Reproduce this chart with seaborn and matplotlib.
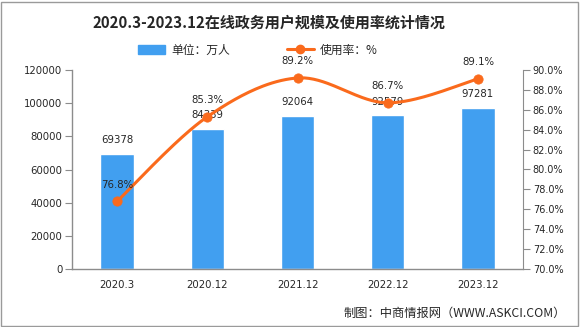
import numpy as np
import pandas as pd
import matplotlib
matplotlib.use("Agg")
import matplotlib.pyplot as plt
import seaborn as sns
from matplotlib.patches import Rectangle
from matplotlib.lines import Line2D
from matplotlib.patches import Patch

categories = ["2020.3", "2020.12", "2021.12", "2022.12", "2023.12"]
users = [69378, 84339, 92064, 92579, 97281]
rate = [76.8, 85.3, 89.2, 86.7, 89.1]
left_ticks = [0, 20000, 40000, 60000, 80000, 100000, 120000]
right_ticks = [70, 72, 74, 76, 78, 80, 82, 84, 86, 88, 90]

sns.set_style("white")
plt.rcParams['font.family'] = ['Noto Sans CJK SC', 'DejaVu Sans']

BAR = "#419FF0"
LINE = "#FA6A1C"
AX = "#8C8C8C"

W, H = 586, 327
fig = plt.figure(figsize=(W / 100, H / 100), dpi=100)
ax = fig.add_axes([72 / W, 1 - 269 / H, (523 - 72) / W, (269 - 70) / H])

df = pd.DataFrame({"cat": categories, "users": users})
sns.barplot(data=df, x="cat", y="users", color=BAR, width=0.37, saturation=1, ax=ax)
ax.set_xlim(-0.5, 4.5)
ax.set_ylim(0, 120000)
ax.set_yticks(left_ticks)
ax.set_yticklabels([str(v) for v in left_ticks], fontsize=7.3, family="DejaVu Sans")
ax.set_xlabel("")
ax.set_ylabel("")
ax.set_xticks(range(len(categories)))
ax.set_xticklabels(categories, fontsize=7.3, family="DejaVu Sans")
ax.set_xticks(np.arange(-0.5, 5, 1), minor=True)
ax.tick_params(axis="x", which="major", length=0, pad=8)
ax.tick_params(axis="x", which="minor", length=5, color=AX, direction="out")
ax.tick_params(axis="y", length=5, color=AX, direction="out", pad=2, left=True)
for s in ["top", "right"]:
    ax.spines[s].set_visible(False)
for s in ["left", "bottom"]:
    ax.spines[s].set_color(AX)
    ax.spines[s].set_linewidth(1)

for i, v in enumerate(users):
    ax.annotate(str(v), (i, v), xytext=(0, 10), textcoords="offset points",
                ha="center", va="center", fontsize=7.3, family="DejaVu Sans")

ax2 = ax.twinx()
ax2.set_ylim(70, 90)
ax2.set_yticks(right_ticks)
ax2.set_yticklabels([f"{v:.1f}%" for v in right_ticks], fontsize=7, family="DejaVu Sans")
ax2.tick_params(axis="y", length=5, color=AX, direction="out", pad=2, right=True)
for s in ["top", "left", "bottom"]:
    ax2.spines[s].set_visible(False)
ax2.spines["right"].set_color(AX)

# smooth curve through the data points (Bezier, Excel-like smoothing)
xs = np.arange(len(rate), dtype=float)
ys = np.array(rate, dtype=float)
px, py = [], []
n = len(xs)
for i in range(n - 1):
    p0 = np.array([xs[max(i - 1, 0)], ys[max(i - 1, 0)]])
    p1 = np.array([xs[i], ys[i]])
    p2 = np.array([xs[i + 1], ys[i + 1]])
    p3 = np.array([xs[min(i + 2, n - 1)], ys[min(i + 2, n - 1)]])
    c1 = p1 + (p2 - p0) / 6
    c2 = p2 - (p3 - p1) / 6
    t = np.linspace(0, 1, 40)[:, None]
    seg = (1 - t) ** 3 * p1 + 3 * (1 - t) ** 2 * t * c1 + 3 * (1 - t) * t ** 2 * c2 + t ** 3 * p2
    px.extend(seg[:, 0]); py.extend(seg[:, 1])
ax2.plot(px, py, color=LINE, lw=2.2, zorder=3)
sns.scatterplot(x=xs, y=ys, color=LINE, s=45, edgecolor=LINE, zorder=4, ax=ax2)
ax2.set_xlim(-0.5, 4.5)
for i, v in enumerate(rate):
    ax2.annotate(f"{v}%", (i, v), xytext=(0, 12), textcoords="offset points",
                 ha="center", va="center", fontsize=7.3, family="DejaVu Sans")

fig.text(269 / W, 1 - 23 / H, "2020.3-2023.12在线政务用户规模及使用率统计情况",
         ha="center", va="center", fontsize=10.8, fontweight="bold")

handles = [Patch(facecolor=BAR, edgecolor=BAR),
           Line2D([0], [0], color=LINE, lw=2.2, marker="o", markersize=6)]
fig.legend(handles, ["单位：万人", "使用率：%"], loc="center", bbox_to_anchor=(0.44, 1 - 50 / H),
           ncol=2, frameon=False, fontsize=8.5, handlelength=2.3, handleheight=0.9,
           columnspacing=4.8, handletextpad=0.5)

fig.text(566 / W, 1 - 313 / H, "制图：中商情报网（WWW.ASKCI.COM）", ha="right", va="center",
         fontsize=8.8)

fig.patches.append(Rectangle((1 / W, 1 / H), 577 / W, 324 / H, transform=fig.transFigure,
                             fill=False, edgecolor="#9A9A9A", lw=1))

fig.savefig("out.png", dpi=100)
